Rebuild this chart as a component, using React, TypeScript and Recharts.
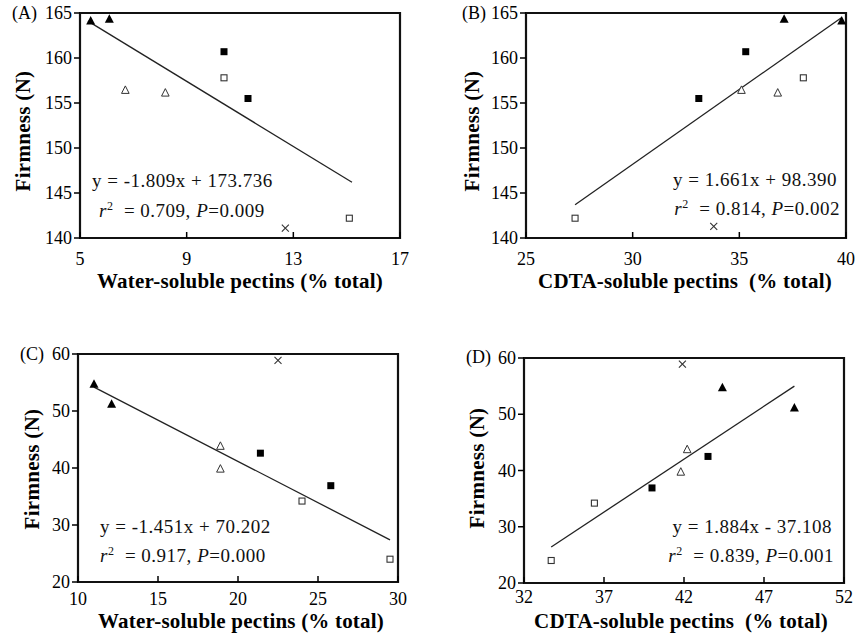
import { ScatterChart, Scatter, XAxis, YAxis, ReferenceArea } from "recharts";

const FONT = "'Liberation Serif', 'Times New Roman', serif";
const serif = { fontFamily: FONT };

type Pt = { x: number; y: number };

// (A) firmness vs water-soluble pectins, first set
const aFilledTri: Pt[] = [{ x: 5.4, y: 164.1 }, { x: 6.1, y: 164.3 }];
const aOpenTri: Pt[] = [{ x: 6.7, y: 156.4 }, { x: 8.2, y: 156.1 }];
const aFilledSq: Pt[] = [{ x: 10.4, y: 160.7 }, { x: 11.3, y: 155.5 }];
const aOpenSq: Pt[] = [{ x: 10.4, y: 157.8 }, { x: 15.1, y: 142.2 }];
const aCross: Pt[] = [{ x: 12.7, y: 141.1 }];
const aFit: Pt[] = [{ x: 5.3, y: 164.1 }, { x: 15.2, y: 146.2 }];

// (B) firmness vs CDTA-soluble pectins, first set
const bFilledTri: Pt[] = [{ x: 37.1, y: 164.3 }, { x: 39.8, y: 164.1 }];
const bOpenTri: Pt[] = [{ x: 35.1, y: 156.4 }, { x: 36.8, y: 156.1 }];
const bFilledSq: Pt[] = [{ x: 33.1, y: 155.5 }, { x: 35.3, y: 160.7 }];
const bOpenSq: Pt[] = [{ x: 27.3, y: 142.2 }, { x: 38.0, y: 157.8 }];
const bCross: Pt[] = [{ x: 33.8, y: 141.3 }];
const bFit: Pt[] = [{ x: 27.3, y: 143.7 }, { x: 39.8, y: 164.5 }];

// (C) firmness vs water-soluble pectins, second set
const cFilledTri: Pt[] = [{ x: 11.0, y: 54.7 }, { x: 12.1, y: 51.2 }];
const cOpenTri: Pt[] = [{ x: 18.9, y: 43.8 }, { x: 18.9, y: 39.8 }];
const cFilledSq: Pt[] = [{ x: 21.4, y: 42.6 }, { x: 25.8, y: 36.9 }];
const cOpenSq: Pt[] = [{ x: 24.0, y: 34.2 }, { x: 29.5, y: 24.0 }];
const cCross: Pt[] = [{ x: 22.5, y: 58.9 }];
const cFit: Pt[] = [{ x: 11.0, y: 54.2 }, { x: 29.5, y: 27.4 }];

// (D) firmness vs CDTA-soluble pectins, second set
const dFilledTri: Pt[] = [{ x: 44.4, y: 54.7 }, { x: 48.9, y: 51.1 }];
const dOpenTri: Pt[] = [{ x: 41.8, y: 39.7 }, { x: 42.2, y: 43.7 }];
const dFilledSq: Pt[] = [{ x: 40.0, y: 36.9 }, { x: 43.5, y: 42.5 }];
const dOpenSq: Pt[] = [{ x: 33.7, y: 24.0 }, { x: 36.4, y: 34.2 }];
const dCross: Pt[] = [{ x: 41.9, y: 58.9 }];
const dFit: Pt[] = [{ x: 33.7, y: 26.4 }, { x: 48.9, y: 55.0 }];

const ticksAx = [5, 9, 13, 17];
const ticksBx = [25, 30, 35, 40];
const ticksCx = [10, 15, 20, 25, 30];
const ticksDx = [32, 37, 42, 47, 52];
const ticksTopY = [140, 145, 150, 155, 160, 165];
const ticksBottomY = [20, 30, 40, 50, 60];

const filledTri = (p: any) => (
  <polygon
    points={`${p.cx},${p.cy - 5} ${p.cx - 4.5},${p.cy + 3.5} ${p.cx + 4.5},${p.cy + 3.5}`}
    fill="#000"
  />
);
const openTri = (p: any) => (
  <polygon
    points={`${p.cx},${p.cy - 4.5} ${p.cx - 3.8},${p.cy + 3} ${p.cx + 3.8},${p.cy + 3}`}
    fill="#fff"
    stroke="#333"
    strokeWidth={1}
  />
);
const filledSq = (p: any) => <rect x={p.cx - 3.5} y={p.cy - 3.5} width={7} height={7} fill="#000" />;
const openSq = (p: any) => (
  <rect x={p.cx - 3} y={p.cy - 3} width={6} height={6} fill="#fff" stroke="#333" strokeWidth={1.1} />
);
const cross = (p: any) => (
  <g stroke="#333" strokeWidth={1.1}>
    <line x1={p.cx - 3.5} y1={p.cy - 3.5} x2={p.cx + 3.5} y2={p.cy + 3.5} />
    <line x1={p.cx - 3.5} y1={p.cy + 3.5} x2={p.cx + 3.5} y2={p.cy - 3.5} />
  </g>
);
const noDot = () => <g />;

// tick labels drawn with an inline serif style
const XTick = (p: any) => (
  <text x={p.x} y={p.y} dy={14} textAnchor="middle" fontSize={18} fill="#000" style={serif}>
    {p.payload.value}
  </text>
);
const YTick = (p: any) => (
  <text x={p.x} y={p.y} dy={6} textAnchor="end" fontSize={18} fill="#000" style={serif}>
    {p.payload.value}
  </text>
);

type PanelProps = {
  left: number;
  top: number;
  margin: { top: number; right: number; bottom: number; left: number };
  xDomain: [number, number];
  xTicks: number[];
  xTickMargin: number;
  yDomain: [number, number];
  yTicks: number[];
  sets: Pt[][];
  fit: Pt[];
  tag: string;
  tagPos: [number, number];
  yTitlePos: [number, number];
  xTitle: string;
  xTitlePos: [number, number];
  eq: string;
  r2: string;
  p: string;
  eqAnchor: "start" | "end";
  eqPos: [number, number];
  r2Pos: [number, number];
};

function Panel(props: PanelProps) {
  const shapes = [filledTri, openTri, filledSq, openSq, cross];
  const eqStyle = { ...serif, whiteSpace: "pre" as const, letterSpacing: 0.5 };
  return (
    <div style={{ position: "absolute", left: props.left, top: props.top, width: 428, height: 320, ...serif }}>
      <ScatterChart width={428} height={320} margin={props.margin} style={serif}>
        <XAxis
          type="number"
          dataKey="x"
          domain={props.xDomain}
          ticks={props.xTicks}
          interval={0}
          allowDataOverflow
          height={30}
          axisLine={false}
          tickSize={-6}
          tickMargin={props.xTickMargin}
          tickLine={{ stroke: "#000", strokeWidth: 1.5 }}
          tick={XTick}
        />
        <YAxis
          type="number"
          dataKey="y"
          domain={props.yDomain}
          ticks={props.yTicks}
          interval={0}
          allowDataOverflow
          width={40}
          axisLine={false}
          tickSize={6}
          tickMargin={2}
          tickLine={{ stroke: "#000", strokeWidth: 1.5 }}
          tick={YTick}
        />
        <ReferenceArea
          x1={props.xDomain[0]}
          x2={props.xDomain[1]}
          y1={props.yDomain[0]}
          y2={props.yDomain[1]}
          fill="none"
          stroke="#111"
          strokeWidth={2.2}
          fillOpacity={0}
        />
        <Scatter
          data={props.fit}
          line={{ stroke: "#222", strokeWidth: 1.3 }}
          shape={noDot}
          isAnimationActive={false}
        />
        {props.sets.map((s, i) => (
          <Scatter key={i} data={s} shape={shapes[i]} isAnimationActive={false} />
        ))}
      </ScatterChart>
      <svg width={428} height={320} style={{ position: "absolute", left: 0, top: 0, pointerEvents: "none" }}>
        <text x={props.tagPos[0]} y={props.tagPos[1]} fontSize={18} fill="#000" style={serif}>
          {props.tag}
        </text>
        <text
          transform={`translate(${props.yTitlePos[0]},${props.yTitlePos[1]}) rotate(-90)`}
          textAnchor="middle"
          dominantBaseline="central"
          fontSize={21}
          fontWeight="bold"
          fill="#000"
          style={{ ...serif, letterSpacing: 0.3 }}
        >
          Firmness (N)
        </text>
        <text
          x={props.xTitlePos[0]}
          y={props.xTitlePos[1]}
          textAnchor="middle"
          fontSize={21}
          fontWeight="bold"
          fill="#000"
          style={{ ...serif, whiteSpace: "pre", letterSpacing: 0.2 }}
        >
          {props.xTitle}
        </text>
        <text x={props.eqPos[0]} y={props.eqPos[1]} textAnchor={props.eqAnchor} fontSize={19} fill="#111" style={eqStyle}>
          {props.eq}
        </text>
        <text x={props.r2Pos[0]} y={props.r2Pos[1]} textAnchor={props.eqAnchor} fontSize={19} fill="#111" style={eqStyle}>
          <tspan fontStyle="italic">r</tspan>
          <tspan dy={-7} fontSize={12}>2</tspan>
          <tspan dy={7}>{`  = ${props.r2}, `}</tspan>
          <tspan fontStyle="italic">P</tspan>
          <tspan>{`=${props.p}`}</tspan>
        </text>
      </svg>
    </div>
  );
}

export default function App() {
  return (
    <div style={{ position: "absolute", left: 0, top: 0, width: 857, height: 641, background: "#fff", ...serif }}>
      <Panel
        left={0}
        top={0}
        margin={{ top: 13, right: 28, bottom: 52, left: 40 }}
        xDomain={[5, 17]}
        xTicks={ticksAx}
        xTickMargin={19}
        yDomain={[140, 165]}
        yTicks={ticksTopY}
        sets={[aFilledTri, aOpenTri, aFilledSq, aOpenSq, aCross]}
        fit={aFit}
        tag="(A)"
        tagPos={[12, 19]}
        yTitlePos={[23, 131]}
        xTitle="Water-soluble pectins (% total)"
        xTitlePos={[240, 288]}
        eq="y = -1.809x + 173.736"
        r2="0.709"
        p="0.009"
        eqAnchor="start"
        eqPos={[92, 187]}
        r2Pos={[99, 217]}
      />
      <Panel
        left={427}
        top={0}
        margin={{ top: 13, right: 9, bottom: 52, left: 59 }}
        xDomain={[25, 40]}
        xTicks={ticksBx}
        xTickMargin={19}
        yDomain={[140, 165]}
        yTicks={ticksTopY}
        sets={[bFilledTri, bOpenTri, bFilledSq, bOpenSq, bCross]}
        fit={bFit}
        tag="(B)"
        tagPos={[35, 19]}
        yTitlePos={[45, 131]}
        xTitle="CDTA-soluble pectins  (% total)"
        xTitlePos={[258, 288]}
        eq="y = 1.661x + 98.390"
        r2="0.814"
        p="0.002"
        eqAnchor="end"
        eqPos={[410, 186]}
        r2Pos={[413, 215]}
      />
      <Panel
        left={0}
        top={320}
        margin={{ top: 34, right: 30, bottom: 28, left: 38 }}
        xDomain={[10, 30]}
        xTicks={ticksCx}
        xTickMargin={15}
        yDomain={[20, 60]}
        yTicks={ticksBottomY}
        sets={[cFilledTri, cOpenTri, cFilledSq, cOpenSq, cCross]}
        fit={cFit}
        tag="(C)"
        tagPos={[20, 40]}
        yTitlePos={[32, 149]}
        xTitle="Water-soluble pectins (% total)"
        xTitlePos={[241, 308]}
        eq="y = -1.451x + 70.202"
        r2="0.917"
        p="0.000"
        eqAnchor="start"
        eqPos={[100, 213]}
        r2Pos={[100, 242]}
      />
      <Panel
        left={427}
        top={320}
        margin={{ top: 38, right: 11, bottom: 27, left: 57 }}
        xDomain={[32, 52]}
        xTicks={ticksDx}
        xTickMargin={12}
        yDomain={[20, 60]}
        yTicks={ticksBottomY}
        sets={[dFilledTri, dOpenTri, dFilledSq, dOpenSq, dCross]}
        fit={dFit}
        tag="(D)"
        tagPos={[39, 43]}
        yTitlePos={[50, 148]}
        xTitle="CDTA-soluble pectins  (% total)"
        xTitlePos={[254, 308]}
        eq="y = 1.884x - 37.108"
        r2="0.839"
        p="0.001"
        eqAnchor="end"
        eqPos={[405, 213]}
        r2Pos={[407, 242]}
      />
    </div>
  );
}
